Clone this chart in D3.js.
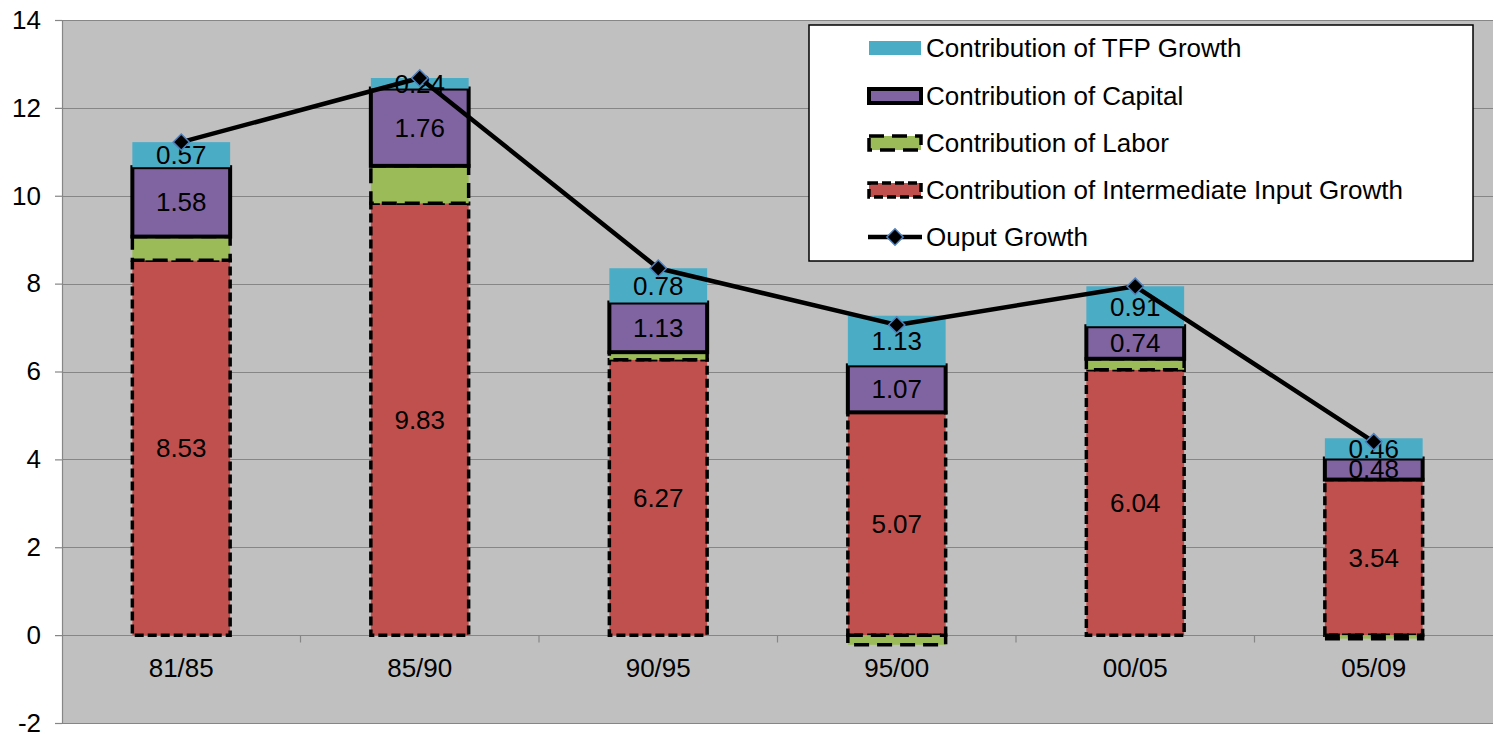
<!DOCTYPE html>
<html>
<head>
<meta charset="utf-8">
<script src="https://cdn.jsdelivr.net/npm/d3@7"></script>
<style>
  body { margin: 0; background: #fff; }
  svg { display: block; font-family: "Liberation Sans", Arial, sans-serif; }
</style>
</head>
<body>
<div id="chart"></div>
<script>
const periods = ["81/85", "85/90", "90/95", "95/00", "00/05", "05/09"];
const intermediate = [8.53, 9.83, 6.27, 5.07, 6.04, 3.54];
const labor = [0.54, 0.85, 0.17, -0.22, 0.25, -0.08];
const capital = [1.58, 1.76, 1.13, 1.07, 0.74, 0.48];
const tfp = [0.57, 0.24, 0.78, 1.13, 0.91, 0.46];
const output = [11.22, 12.68, 8.35, 7.06, 7.94, 4.40];
const yTicks = [-2, 0, 2, 4, 6, 8, 10, 12, 14];

const series = [
  { name: "Contribution of Intermediate Input Growth", values: intermediate, fill: "#C0504D", stroke: "#000", dash: "9,4", sw: 3.5, label: true },
  { name: "Contribution of Labor", values: labor, fill: "#9BBB59", stroke: "#000", dash: "15,8", sw: 3.5, label: false },
  { name: "Contribution of Capital", values: capital, fill: "#8064A2", stroke: "#000", dash: null, sw: 4, label: true },
  { name: "Contribution of TFP Growth", values: tfp, fill: "#4BACC6", stroke: "none", dash: null, sw: 0, label: true }
];

const fontSize = 26;
const fullWidth = 1493, fullHeight = 732;
const margin = { top: 20, right: 0, bottom: 9, left: 62 };
const width = fullWidth - margin.left - margin.right;
const height = fullHeight - margin.top - margin.bottom;

const svg = d3.select("#chart").append("svg")
  .attr("width", fullWidth)
  .attr("height", fullHeight);

const g = svg.append("g")
  .attr("transform", `translate(${margin.left},${margin.top})`);

const x = d3.scaleBand().domain(periods).range([0, width]).paddingInner(0.59).paddingOuter(0.295);
const band = width / periods.length;
const y = d3.scaleLinear().domain([-2, 14]).range([height, 0]);

// plot area
g.append("rect").attr("width", width).attr("height", height).attr("fill", "#C0C0C0");

// gridlines
g.selectAll(".grid").data(yTicks).enter().append("line")
  .attr("x1", 0).attr("x2", width)
  .attr("y1", d => Math.round(y(d)) + 0.5).attr("y2", d => Math.round(y(d)) + 0.5)
  .attr("stroke", "#868686").attr("stroke-width", 1.2);

// y axis
const yAxis = g.append("g")
  .call(d3.axisLeft(y).tickValues(yTicks).tickSize(7).tickPadding(14).tickFormat(d => String(d)));
yAxis.select(".domain").attr("stroke", "#868686").attr("stroke-width", 1.2);
yAxis.selectAll(".tick line").attr("stroke", "#868686").attr("stroke-width", 1.2);
yAxis.selectAll("text").attr("font-size", fontSize).attr("fill", "#000")
  .attr("font-family", "Liberation Sans, Arial, sans-serif");

// x axis at zero, ticks at category boundaries
const xg = g.append("g").attr("transform", `translate(0,${Math.round(y(0)) + 0.5})`);
xg.selectAll("line.tick").data(d3.range(1, periods.length)).enter().append("line")
  .attr("x1", d => d * band).attr("x2", d => d * band)
  .attr("y1", 0).attr("y2", 7)
  .attr("stroke", "#868686").attr("stroke-width", 1.2);
xg.selectAll("text").data(periods).enter().append("text")
  .attr("x", d => x(d) + x.bandwidth() / 2)
  .attr("y", 41)
  .attr("text-anchor", "middle")
  .attr("font-size", fontSize)
  .text(d => d);

// stacked bars (negatives stack below zero, as Excel does)
const posBase = periods.map(() => 0);
const negBase = periods.map(() => 0);
const segs = [];
series.forEach(s => {
  s.values.forEach((v, i) => {
    let y0, y1;
    if (v >= 0) { y0 = posBase[i]; y1 = y0 + v; posBase[i] = y1; }
    else { y0 = negBase[i]; y1 = y0 + v; negBase[i] = y1; }
    segs.push({ s, i, v, lo: Math.min(y0, y1), hi: Math.max(y0, y1) });
  });
});

const barG = g.append("g");
series.forEach(s => {
  barG.selectAll(null).data(segs.filter(d => d.s === s)).enter().append("rect")
    .attr("x", d => x(periods[d.i]))
    .attr("width", x.bandwidth())
    .attr("y", d => y(d.hi))
    .attr("height", d => y(d.lo) - y(d.hi))
    .attr("fill", s.fill)
    .attr("stroke", s.stroke)
    .attr("stroke-width", s.sw)
    .attr("stroke-dasharray", s.dash);
});

// data labels
g.append("g").selectAll("text").data(segs.filter(d => d.s.label)).enter().append("text")
  .attr("x", d => x(periods[d.i]) + x.bandwidth() / 2)
  .attr("y", d => y((d.lo + d.hi) / 2))
  .attr("dy", "0.36em")
  .attr("text-anchor", "middle")
  .attr("font-size", fontSize)
  .text(d => d.v.toFixed(2));

// output line
const line = d3.line()
  .x((d, i) => x(periods[i]) + x.bandwidth() / 2)
  .y(d => y(d));
g.append("path").datum(output)
  .attr("fill", "none").attr("stroke", "#000").attr("stroke-width", 4.5)
  .attr("stroke-linejoin", "round")
  .attr("d", line);

const diamond = d3.symbol().type(d3.symbolDiamond2).size(170);
g.selectAll(".marker").data(output).enter().append("path")
  .attr("transform", (d, i) => `translate(${x(periods[i]) + x.bandwidth() / 2},${y(d)})`)
  .attr("d", diamond)
  .attr("fill", "#000")
  .attr("stroke", "#4F81BD")
  .attr("stroke-width", 1.5);

// legend
const legend = svg.append("g").attr("transform", "translate(809,25)");
legend.append("rect").attr("width", 664).attr("height", 236)
  .attr("fill", "#fff").attr("stroke", "#000").attr("stroke-width", 1.5);

const legendItems = [series[3], series[2], series[1], series[0]];
const rowY = [23, 71, 118, 165, 212];
legendItems.forEach((s, k) => {
  const row = legend.append("g").attr("transform", `translate(0,${rowY[k]})`);
  if (s.stroke === "none") {
    row.append("rect").attr("x", 60).attr("y", -7).attr("width", 52).attr("height", 14).attr("fill", s.fill);
  } else {
    row.append("rect").attr("x", 60).attr("y", -7).attr("width", 52).attr("height", 14)
      .attr("fill", s.fill).attr("stroke", s.stroke).attr("stroke-width", s.sw)
      .attr("stroke-dasharray", s.dash);
  }
  row.append("text").attr("x", 117).attr("dy", "0.36em").attr("font-size", fontSize).text(s.name);
});
const outRow = legend.append("g").attr("transform", `translate(0,${rowY[4]})`);
outRow.append("line").attr("x1", 59).attr("x2", 113).attr("stroke", "#000").attr("stroke-width", 4.5);
outRow.append("path").attr("transform", "translate(86,0)").attr("d", diamond)
  .attr("fill", "#000").attr("stroke", "#4F81BD").attr("stroke-width", 1.5);
outRow.append("text").attr("x", 117).attr("dy", "0.36em").attr("font-size", fontSize).text("Ouput Growth");
</script>
</body>
</html>
